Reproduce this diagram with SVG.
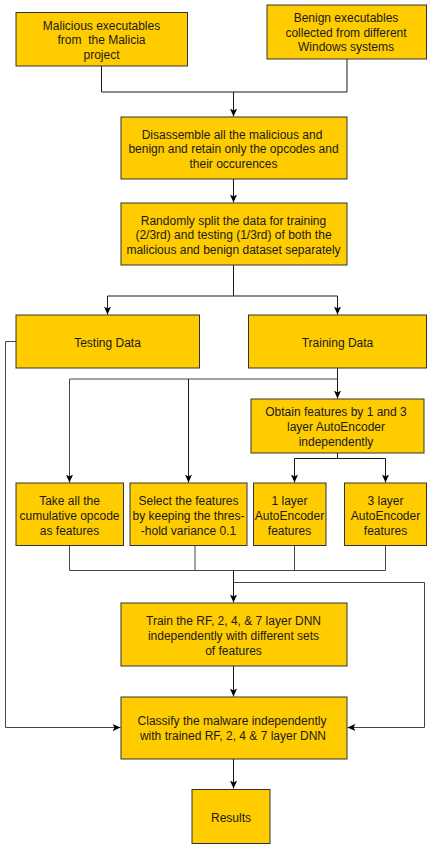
<svg xmlns="http://www.w3.org/2000/svg" width="440" height="849" viewBox="0 0 440 849">
<style>
.box{fill:#FFCC00;stroke:#333333;stroke-width:1}
.t{font-family:"Liberation Sans",Arial,sans-serif;font-size:12px;fill:#1a1a1a;text-anchor:middle}
.c{fill:none;stroke:#1a1a1a;stroke-width:1}
.g{fill:none;stroke:#444444;stroke-width:1}
</style>
<defs>
<marker id="ah" markerUnits="userSpaceOnUse" markerWidth="8" markerHeight="8" viewBox="0 0 10 10" refX="10" refY="5" orient="auto">
<path d="M0,0.5 L10,5 L0,9.5 L2.5,5 z" fill="#000"/>
</marker>
</defs>
<rect width="440" height="849" fill="#ffffff"/>
<g id="connectors">
<path class="c" d="M101.5,66 V92 H347 V59"/>
<path class="c" d="M233.5,92 V116.5" marker-end="url(#ah)"/>
<path class="c" d="M233.5,179 V202.5" marker-end="url(#ah)"/>
<path class="c" d="M233.5,265 V296"/>
<path class="c" d="M107.5,296 H337.5"/>
<path class="c" d="M107.5,296 V314.5" marker-end="url(#ah)"/>
<path class="c" d="M337.5,296 V314.5" marker-end="url(#ah)"/>
<path class="c" d="M337.5,368 V398.5" marker-end="url(#ah)"/>
<path class="g" d="M337.5,379 H69.5 V482.5" marker-end="url(#ah)"/>
<path class="c" d="M188.5,379 V482.5" marker-end="url(#ah)"/>
<path class="c" d="M337.5,453 V458.5 H294.5 V482.5" marker-end="url(#ah)"/>
<path class="c" d="M337.5,458.5 H385.5 V482.5" marker-end="url(#ah)"/>
<path class="g" d="M69.5,546 V570.5 H385.5 V546"/>
<path class="g" d="M195,546 V570.5"/>
<path class="g" d="M294.5,546 V570.5"/>
<path class="c" d="M233.5,570.5 V602.5" marker-end="url(#ah)"/>
<path class="g" d="M233.5,582.5 H424.5 V727.5 H347.5" marker-end="url(#ah)"/>
<path class="c" d="M233.5,666 V696.5" marker-end="url(#ah)"/>
<path class="g" d="M16,341.5 H5.5 V727.5 H120.5" marker-end="url(#ah)"/>
<path class="c" d="M233.5,759 V788.5" marker-end="url(#ah)"/>
</g>
<g id="n1"><rect class="box" x="16" y="12.5" width="171.5" height="53.5"/>
<text class="t" x="101.5" y="29.5">Malicious executables</text>
<text class="t" x="101.5" y="44" style="white-space:pre">from  the Malicia</text>
<text class="t" x="101.5" y="58.5">project</text></g>
<g id="n2"><rect class="box" x="267" y="5" width="159.5" height="54"/>
<text class="t" x="346" y="22">Benign executables</text>
<text class="t" x="346" y="36.5">collected from different</text>
<text class="t" x="346" y="51">Windows systems</text></g>
<g id="n3"><rect class="box" x="121" y="117" width="226" height="62"/>
<text class="t" x="232" y="138.5">Disassemble all the malicious and</text>
<text class="t" x="233.5" y="153">benign and retain only the opcodes and</text>
<text class="t" x="233.5" y="167.5">their occurences</text></g>
<g id="n4"><rect class="box" x="121" y="203" width="226" height="62"/>
<text class="t" x="233.5" y="224.5">Randomly split the data for training</text>
<text class="t" x="233.5" y="239">(2/3rd) and testing (1/3rd) of both the</text>
<text class="t" x="233.5" y="253.5">malicious and benign dataset separately</text></g>
<g id="n5"><rect class="box" x="16" y="315" width="183.5" height="53"/>
<text class="t" x="107.5" y="347">Testing Data</text></g>
<g id="n6"><rect class="box" x="248.5" y="315" width="178" height="53"/>
<text class="t" x="337.5" y="347">Training Data</text></g>
<g id="n7"><rect class="box" x="251" y="399" width="173" height="54"/>
<text class="t" x="336" y="416">Obtain features by 1 and 3</text>
<text class="t" x="336" y="430.5">layer AutoEncoder</text>
<text class="t" x="336" y="445.5">independently</text></g>
<g id="n8"><rect class="box" x="16" y="483" width="107.5" height="62.5"/>
<text class="t" x="69.5" y="505">Take all the</text>
<text class="t" x="69.5" y="519.5">cumulative opcode</text>
<text class="t" x="69.5" y="534.5">as features</text></g>
<g id="n9"><rect class="box" x="130" y="483" width="117" height="62.5"/>
<text class="t" x="188.5" y="505">Select the features</text>
<text class="t" x="188.5" y="519.5">by keeping the thres-</text>
<text class="t" x="188.5" y="534.5">-hold variance 0.1</text></g>
<g id="n10"><rect class="box" x="253.5" y="483" width="72.5" height="62.5"/>
<text class="t" x="289.5" y="505">1 layer</text>
<text class="t" x="289.5" y="519.5">AutoEncoder</text>
<text class="t" x="289.5" y="534.5">features</text></g>
<g id="n11"><rect class="box" x="344.5" y="483" width="82" height="62.5"/>
<text class="t" x="385.5" y="505">3 layer</text>
<text class="t" x="385.5" y="519.5">AutoEncoder</text>
<text class="t" x="385.5" y="534.5">features</text></g>
<g id="n12"><rect class="box" x="121" y="603" width="226" height="63"/>
<text class="t" x="233.5" y="625">Train the RF, 2, 4, &amp; 7 layer DNN</text>
<text class="t" x="233.5" y="639.5">independently with different sets</text>
<text class="t" x="233.5" y="654.5">of features</text></g>
<g id="n13"><rect class="box" x="121" y="697" width="226" height="62"/>
<text class="t" x="232" y="725">Classify the malware independently</text>
<text class="t" x="233" y="740">with trained RF, 2, 4 &amp; 7 layer DNN</text></g>
<g id="n14"><rect class="box" x="192" y="789.5" width="78" height="54"/>
<text class="t" x="231" y="821.5">Results</text></g>
</svg>
